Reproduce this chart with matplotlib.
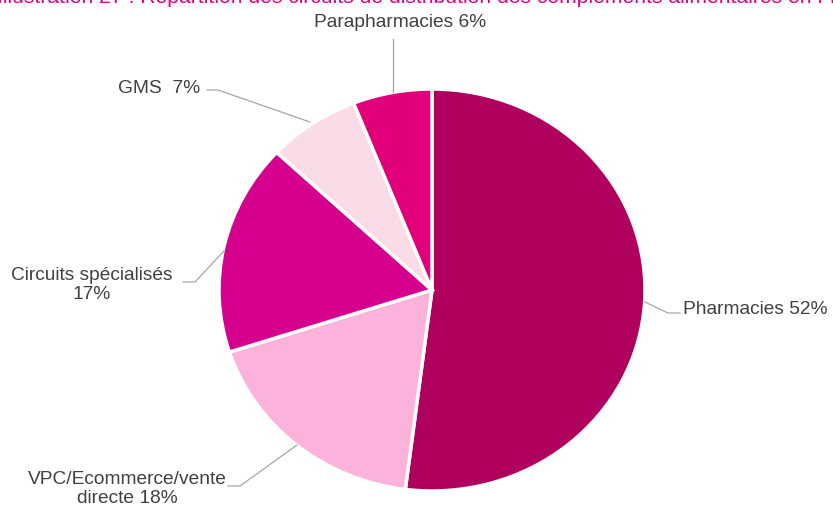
import matplotlib.pyplot as plt

labels = ["Pharmacies 52%", "VPC/Ecommerce/vente\ndirecte 18%", "Circuits spécialisés\n17%",
          "GMS  7%", "Parapharmacies 6%"]
shares = [52, 18, 17, 7, 6]
colors = ["#B0005E", "#FBB3DB", "#D6008F", "#F9DCE8", "#E2007A"]
title = "Illustration 27 : Répartition des circuits de distribution des compléments alimentaires en France"

W, H = 833, 506
plt.rcParams['font.family'] = ['Liberation Sans', 'DejaVu Sans']

fig = plt.figure(figsize=(W / 100, H / 100), dpi=100)


def fx(x):
    return x / W


def fy(y):
    return 1 - y / H


# pie axes spans the ellipse bounding box (pixels)
left, right, top, bottom = 219, 645, 90, 492
ax = fig.add_axes([fx(left), fy(bottom), (right - left) / W, (bottom - top) / H])
ax.pie(shares, colors=colors, startangle=90, counterclock=False, radius=1,
       wedgeprops=dict(edgecolor="white", linewidth=2.5))
ax.set_xlim(-1, 1)
ax.set_ylim(-1, 1)
ax.set_aspect('auto')
ax.axis('off')

# overlay axes in pixel coordinates for labels & leader lines
ov = fig.add_axes([0, 0, 1, 1])
ov.set_xlim(0, W)
ov.set_ylim(H, 0)
ov.axis('off')

txt = dict(color="#404040", fontsize=13.8)
line = dict(color="#A6A6A6", lw=0.9)

ov.text(683, 310, labels[0], ha="left", va="center", **txt)
ov.plot([645, 668, 680], [303, 314, 314], **line)

ov.text(127, 489, labels[1], ha="center", va="center", linespacing=1.1, **txt)
ov.plot([228, 240, 297], [487, 487, 446], **line)

ov.text(92, 285, labels[2], ha="center", va="center", linespacing=1.1, **txt)
ov.plot([183, 195, 224], [283, 283, 252], **line)

ov.text(200, 88, labels[3], ha="right", va="center", **txt)
ov.plot([207, 218, 310], [91, 91, 123], **line)

ov.text(400, 22, labels[4], ha="center", va="center", **txt)
ov.plot([393, 393], [40, 93], **line)

# title, cropped at the top edge as in the source image
fig.text(fx(-3), fy(3), title, ha="left", va="baseline", color="#E6007E", fontsize=15.2)

fig.savefig("out.png", dpi=100)
